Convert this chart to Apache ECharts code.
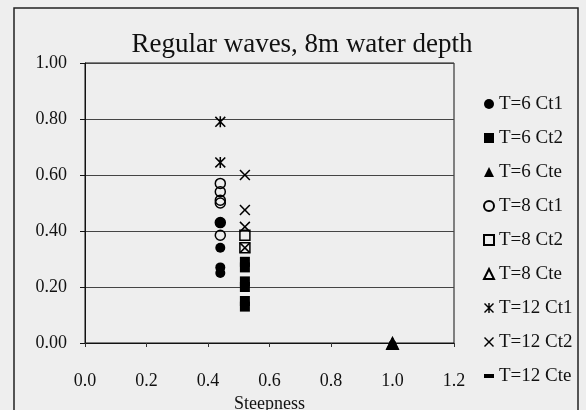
<!DOCTYPE html>
<html>
<head>
<meta charset="utf-8">
<script src="https://cdn.jsdelivr.net/npm/echarts@6/dist/echarts.min.js"></script>
<style>
  html, body { margin: 0; padding: 0; background: #eeeeee; }
  #chart { width: 586px; height: 410px; }
</style>
</head>
<body>
<div id="chart"></div>
<script>
// steepness of each group of measurements
const ct1Steep = 0.44;
const ct2Steep = 0.52;
const cteSteep = 1.0;

// coefficient values
const t6Ct1 = [0.43, 0.34, 0.27, 0.25];
const t6Ct2 = [0.29, 0.27, 0.22, 0.20, 0.15, 0.13];
const t6Cte = [0.0];
const t8Ct1 = [0.57, 0.54, 0.51, 0.50, 0.43, 0.385];
const t8Ct2 = [0.385, 0.34];
const t8Cte = [0.0];
const t12Ct1 = [0.79, 0.645];
const t12Ct2 = [0.60, 0.475, 0.415, 0.34];
const t12Cte = [0.0];

const xTicks = [0.0, 0.2, 0.4, 0.6, 0.8, 1.0, 1.2];
const yTicks = [0.0, 0.2, 0.4, 0.6, 0.8, 1.0];

const FONT = 'Liberation Serif';
const X_PATH = 'path://M1,0L5,4L9,0L10,1L6,5L10,9L9,10L5,6L1,10L0,9L4,5L0,1Z';
const STAR_PATH = 'path://M1,0L5,4L9,0L10,1L6,5L10,9L9,10L5,6L1,10L0,9L4,5L0,1Z M4.3,0H5.7V10H4.3Z';
const DASH_PATH = 'path://M0,0H10V4H0Z';

function pts(x, ys) {
  return ys.map(y => [x, y]);
}

function mk(name, x, ys, symbol, size, hollow) {
  return {
    name: name,
    type: 'scatter',
    data: pts(x, ys),
    symbol: symbol,
    symbolSize: size,
    itemStyle: hollow
      ? { color: 'rgba(0,0,0,0)', borderColor: '#000', borderWidth: 1.5, opacity: 1 }
      : { color: '#000', opacity: 1 }
  };
}

const series = [
  mk('T=6 Ct1', ct1Steep, t6Ct1, 'circle', 10, false),
  mk('T=6 Ct2', ct2Steep, t6Ct2, 'rect', 10, false),
  mk('T=6 Cte', cteSteep, t6Cte, 'triangle', 14, false),
  mk('T=8 Ct1', ct1Steep, t8Ct1, 'circle', 10, true),
  mk('T=8 Ct2', ct2Steep, t8Ct2, 'rect', 10, true),
  mk('T=8 Cte', cteSteep, t8Cte, 'triangle', 10, true),
  mk('T=12 Ct1', ct1Steep, t12Ct1, STAR_PATH, 11, false),
  mk('T=12 Ct2', ct2Steep, t12Ct2, X_PATH, 11, false),
  mk('T=12 Cte', cteSteep, t12Cte, DASH_PATH, [7, 3], false)
];

const myChart = echarts.init(document.getElementById('chart'));

myChart.setOption({
  backgroundColor: '#eeeeee',
  animation: false,
  textStyle: { fontFamily: FONT, color: '#111' },
  graphic: [{
    type: 'rect',
    shape: { x: 14, y: 8, width: 564, height: 430 },
    style: { fill: 'none', stroke: '#222', lineWidth: 1.5 },
    silent: true
  }],
  title: {
    text: 'Regular waves, 8m water depth',
    left: 297,
    textAlign: 'center',
    top: 26,
    textStyle: { fontFamily: FONT, fontSize: 27, fontWeight: 'normal', color: '#111' }
  },
  legend: {
    orient: 'vertical',
    left: 478,
    top: 89,
    itemWidth: 10,
    itemHeight: 10,
    itemGap: 14,
    textStyle: { fontFamily: FONT, fontSize: 19, lineHeight: 20, color: '#111' },
    data: series.map(s => s.name)
  },
  grid: {
    left: 85,
    right: 132,
    top: 63,
    bottom: 67,
    outerBoundsMode: 'none',
    containLabel: false,
    show: true,
    borderColor: '#111',
    borderWidth: 1
  },
  xAxis: {
    type: 'value',
    min: xTicks[0],
    max: xTicks[xTicks.length - 1],
    interval: 0.2,
    name: 'Steepness',
    nameLocation: 'middle',
    nameGap: 49,
    nameTextStyle: { fontFamily: FONT, fontSize: 18, color: '#111' },
    axisLine: { show: true, lineStyle: { color: '#111', width: 1 } },
    axisTick: { show: true, inside: false, length: 4, lineStyle: { color: '#333' } },
    axisLabel: {
      margin: 29,
      fontFamily: FONT,
      fontSize: 18,
      color: '#111',
      formatter: v => v.toFixed(1)
    },
    splitLine: { show: false }
  },
  yAxis: {
    type: 'value',
    min: yTicks[0],
    max: yTicks[yTicks.length - 1],
    interval: 0.2,
    axisLine: { show: true, lineStyle: { color: '#111', width: 1 } },
    axisTick: { show: true, inside: false, length: 5, lineStyle: { color: '#111' } },
    axisLabel: {
      margin: 18,
      fontFamily: FONT,
      fontSize: 18,
      color: '#111',
      formatter: v => v.toFixed(2)
    },
    splitLine: { show: true, lineStyle: { color: '#444', width: 1 } }
  },
  series: series
});

window.onresize = function () {
  myChart.resize();
};
</script>
</body>
</html>
